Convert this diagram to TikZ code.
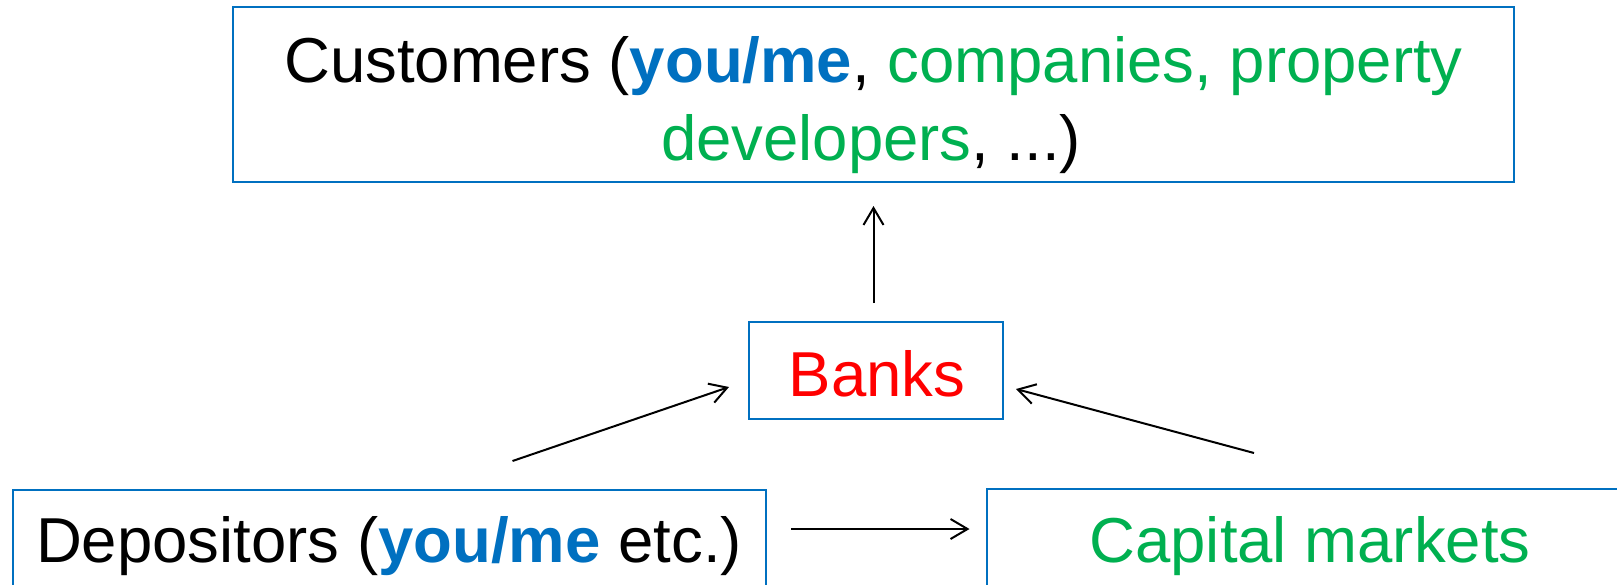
\documentclass[tikz,border=0pt]{standalone}
\usepackage{fontspec}
\setmainfont{Liberation Sans}
\usetikzlibrary{arrows.meta}
\definecolor{boxblue}{RGB}{0,112,192}
\definecolor{mygreen}{RGB}{0,176,80}
\begin{document}
\begin{tikzpicture}[x=1pt,y=-1pt,
  box/.style={draw=boxblue, line width=2pt, inner sep=0pt},
  lbl/.style={anchor=base, inner sep=0pt, font=\fontsize{63.5}{77.5}\selectfont},
  arr/.style={line width=2pt, -{Straight Barb[length=17pt,width=20pt,line width=2pt]}}]
\useasboundingbox (0,0) rectangle (1617,584);
\clip (0,0) rectangle (1617,584);
% boxes
\node[box, minimum width=1281pt, minimum height=175pt] (cust) at (873.5,94) {};
\node[box, minimum width=254pt, minimum height=97pt] (banks) at (876,370.5) {};
\node[box, minimum width=752.6pt, minimum height=150pt] (dep) at (389.7,565) {};
\node[box, minimum width=693pt, minimum height=151pt] (cap) at (1333.5,564.5) {};
% texts
\node[lbl] (custA) at (873.5,82.5) {Customers ({\bfseries\color{boxblue}you/me}, \textcolor{mygreen}{companies, property}};
\node[lbl] (custB) at (871,160) {\textcolor{mygreen}{developers}, ...)};
\node[lbl, text=red] (banksT) at (877,396) {Banks};
\node[lbl] (depT) at (389,562) {Depositors ({\bfseries\color{boxblue}you/me} etc.)};
\node[lbl, text=mygreen] (capT) at (1310,562) {Capital markets};
% arrow ends
\coordinate (u1) at (873.5,303);
\coordinate (u2) at (873.5,206);
\coordinate (d1) at (512.5,461);
\coordinate (d2) at (729,387);
\coordinate (c1) at (1254,453);
\coordinate (c2) at (1016,389);
\coordinate (h1) at (791,529);
\coordinate (h2) at (969.5,529);
\draw[arr] (u1) -- (u2);
\draw[arr] (d1) -- (d2);
\draw[arr] (c1) -- (c2);
\draw[arr] (h1) -- (h2);
\end{tikzpicture}
\end{document}
